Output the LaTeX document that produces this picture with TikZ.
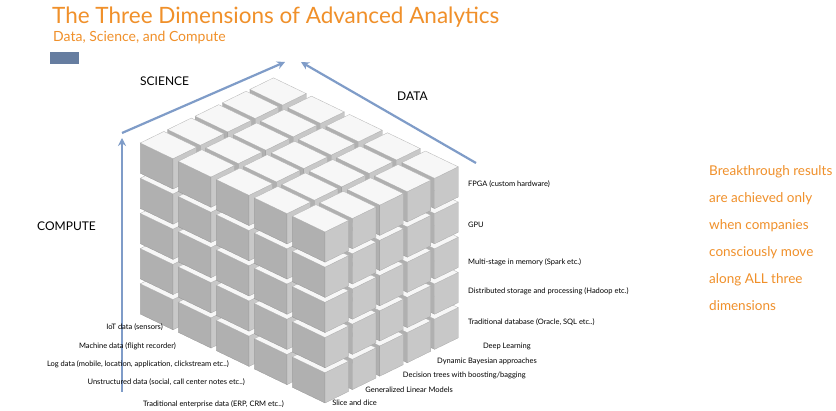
\documentclass[tikz,border=0pt]{standalone}
\usepackage{fontspec}
\setmainfont{Lato}
\begin{document}
\begin{tikzpicture}[x=1pt,y=-1pt,
  lbl/.style={font=\fontsize{7.5}{9}\selectfont,inner sep=0pt},
  axis/.style={font=\fontsize{12}{14}\selectfont,inner sep=0pt},
  arr/.style={draw=arrowblue,line width=2.2pt,-{Stealth[length=8pt,width=8pt]}},
  lface/.style={fill=faceL,draw=faceL!80!black,line width=0.2pt},
  rface/.style={fill=faceR,draw=faceR!80!black,line width=0.2pt},
  tface/.style={fill=faceT,draw=gray!60,line width=0.3pt}]
\usetikzlibrary{arrows.meta}
\definecolor{orng}{HTML}{F0902A}
\definecolor{arrowblue}{HTML}{7F9CC8}
\definecolor{faceL}{HTML}{B0B0B0}
\definecolor{faceR}{HTML}{C8C8C8}
\definecolor{faceT}{HTML}{F7F7F7}
\useasboundingbox[fill=white] (0,0) rectangle (836,411);
% title
\node[anchor=base west,inner sep=0pt,text=orng,font=\fontsize{22.5}{26}\selectfont] (title) at (52,24) {The Three Dimensions of Advanced Analytics};
\node[anchor=base west,inner sep=0pt,text=orng,font=\fontsize{14}{16}\selectfont] (sub) at (53,42) {Data, Science, and Compute};
\fill[fill=arrowblue!80!black] (50,52) rectangle (79,64);
% cubes
\def\Ax{-38}\def\Ay{-18.3}\def\Bx{27.4}\def\By{-13.4}\def\Cy{-35.2}\def\s{0.86}
\foreach \d in {8,...,-4}{
 \foreach \i in {0,...,4}{
  \foreach \j in {0,...,4}{
   \foreach \k in {0,...,4}{
    \pgfmathtruncatemacro\dd{\i+\j-\k}
    \ifnum\dd=\d
     \pgfmathsetmacro\px{325+\i*\Ax+\j*\Bx}
     \pgfmathsetmacro\py{403+\i*\Ay+\j*\By+\k*\Cy}
     \begin{scope}[shift={(\px,\py)}]
      \path[lface] (0,0) -- ++(\s*\Ax,\s*\Ay) -- ++(0,\s*\Cy) -- ++(-\s*\Ax,-\s*\Ay) -- cycle;
      \path[rface] (0,0) -- ++(\s*\Bx,\s*\By) -- ++(0,\s*\Cy) -- ++(-\s*\Bx,-\s*\By) -- cycle;
      \path[tface] (0,\s*\Cy) -- ++(\s*\Ax,\s*\Ay) -- ++(\s*\Bx,\s*\By) -- ++(-\s*\Ax,-\s*\Ay) -- cycle;
     \end{scope}
    \fi
   }}}}
% arrows
\coordinate (c0) at (122,392);
\coordinate (c1) at (122,138);
\coordinate (s0) at (122,133);
\coordinate (s1) at (285,62);
\coordinate (d0) at (476,163);
\coordinate (d1) at (301,62);
\draw[arr] (c0) -- (c1);
\draw[arr] (s0) -- (s1);
\draw[arr] (d0) -- (d1);
\node[axis,anchor=base west] (sci) at (140,86) {SCIENCE};
\node[axis,anchor=base west] (dat) at (397,101) {DATA};
\node[axis,anchor=base west] (com) at (37,231) {COMPUTE};
% right labels
\node[lbl,anchor=west] (r1) at (468,184) {FPGA (custom hardware)};
\node[lbl,anchor=west] (r2) at (468,225) {GPU};
\node[lbl,anchor=west] (r3) at (468,262) {Multi-stage in memory (Spark etc.)};
\node[lbl,anchor=west] (r4) at (468,291) {Distributed storage and processing (Hadoop etc.)};
\node[lbl,anchor=west] (r5) at (468,322) {Traditional database (Oracle, SQL etc..)};
% bottom right labels
\node[lbl,anchor=east] (b1) at (531,346) {Deep Learning};
\node[lbl,anchor=east] (b2) at (537,361) {Dynamic Bayesian approaches};
\node[lbl,anchor=east] (b3) at (526,375) {Decision trees with boosting/bagging};
\node[lbl,anchor=east] (b4) at (453,390) {Generalized Linear Models};
\node[lbl,anchor=east] (b5) at (377,403) {Slice and dice};
% left labels
\node[lbl,anchor=east] (l1) at (163,327) {IoT data (sensors)};
\node[lbl,anchor=east] (l2) at (176,346) {Machine data (flight recorder)};
\node[lbl,anchor=east] (l3) at (229,364) {Log data (mobile, location, application, clickstream etc..)};
\node[lbl,anchor=east] (l4) at (245,382) {Unstructured data (social, call center notes etc..)};
\node[lbl,anchor=east] (l5) at (284,404) {Traditional enterprise data (ERP, CRM etc..)};
% side text
\node[anchor=north west,inner sep=0pt,text=orng,align=left,font=\fontsize{13.5}{27}\selectfont] (side) at (709,165)
 {Breakthrough results\\are achieved only\\when companies\\consciously move\\along ALL three\\dimensions};
\end{tikzpicture}
\end{document}
